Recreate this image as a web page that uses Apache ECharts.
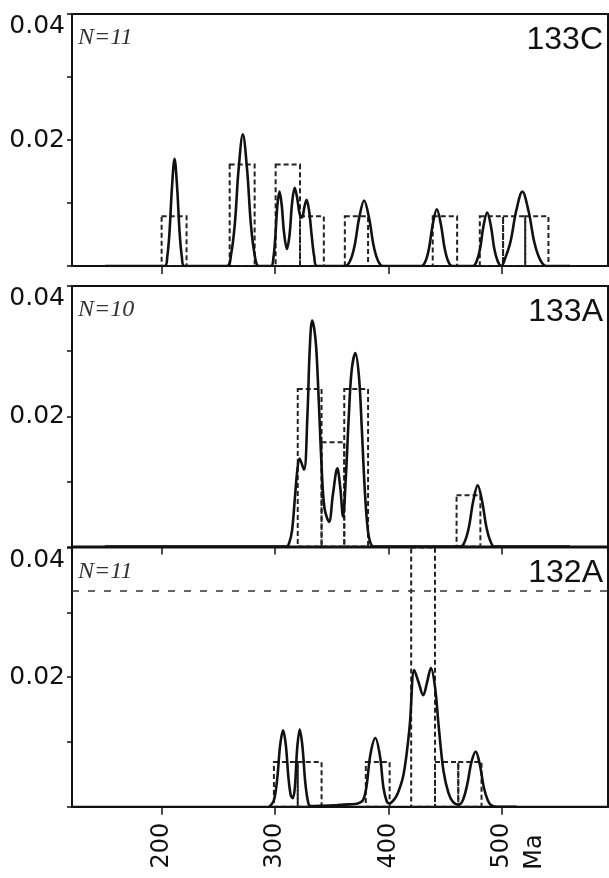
<!DOCTYPE html>
<html>
<head>
<meta charset="utf-8">
<script src="https://cdn.jsdelivr.net/npm/echarts@6/dist/echarts.min.js"></script>
<style>
  html, body { margin: 0; padding: 0; background: #fff; }
  #chart { width: 609px; height: 878px; }
</style>
</head>
<body>
<div id="chart"></div>
<script>
const xTicks = [200, 300, 400, 500];
const panelNames = ['133C', '133A', '132A'];
const panelCounts = ['N=11', 'N=10', 'N=11'];

// histogram bins: [from Ma, to Ma, density]
const bins133C = [
  [200, 222, 0.0079], [260, 282, 0.0161], [300.5, 322, 0.0161], [322, 343, 0.0079],
  [361.5, 382, 0.0079], [439, 460.5, 0.0079], [480.5, 501, 0.0079], [501, 520.5, 0.0079],
  [520.5, 541, 0.0079]
];
const bins133A = [
  [320, 341, 0.0242], [341, 361, 0.0160], [361, 382, 0.0242], [460, 481, 0.0079]
];
const bins132A = [
  [299, 320, 0.0069], [320, 341, 0.0069], [380, 401, 0.0069], [420, 441, 0.04],
  [441, 461.5, 0.0069], [461.5, 482, 0.0069]
];

// density curves: [Ma, density]
const kde133C = [
  [150, 0], [202.7, 0], [205.0, 0.0015], [207.0, 0.0055], [209.1, 0.0124], [211.4, 0.0170],
  [213.7, 0.0124], [215.8, 0.0055], [217.8, 0.0015], [220.1, 0],
  [257.5, 0], [261.3, 0.0019], [264.6, 0.0068], [267.8, 0.0152], [271.6, 0.0209],
  [275.4, 0.0152], [278.6, 0.0068], [281.9, 0.0019], [285.7, 0],
  [296.5, 0], [298.5, 0.0012], [300.2, 0.0045], [302.0, 0.0095], [303.9, 0.0118],
  [305.8, 0.0098], [307.8, 0.0055], [310.4, 0.0027], [312.8, 0.0050], [315.0, 0.0100],
  [317.3, 0.0124], [319.5, 0.0108], [321.8, 0.0082], [323.9, 0.0077], [325.8, 0.0093],
  [327.8, 0.0105], [330.0, 0.0088], [332.3, 0.0048], [334.5, 0.0015], [337.0, 0],
  [362, 0], [366.4, 0.0009], [370.2, 0.0033], [374.1, 0.0076], [378.5, 0.0104],
  [382.9, 0.0076], [386.8, 0.0033], [390.6, 0.0009], [395, 0],
  [429, 0], [432.7, 0.0008], [435.8, 0.0029], [439.0, 0.0066], [442.6, 0.0090],
  [446.2, 0.0066], [449.4, 0.0029], [452.5, 0.0008], [456, 0],
  [474.5, 0], [477.8, 0.0008], [480.7, 0.0027], [483.6, 0.0062], [487.0, 0.0085],
  [490.4, 0.0062], [493.3, 0.0027], [496.2, 0.0008], [499.5, 0],
  [502.6, 0.0011], [507.5, 0.0038], [512.4, 0.0086], [518.0, 0.0118], [523.6, 0.0086],
  [528.5, 0.0038], [533.4, 0.0011], [539, 0], [560, 0]
];
const kde133A = [
  [150, 0], [310, 0], [312.5, 0.0006], [315, 0.0025], [317.5, 0.0075], [319.5, 0.0115],
  [321.5, 0.0135], [325.5, 0.0118], [328.5, 0.0200], [330.5, 0.0300], [332.7, 0.0347],
  [334.5, 0.0335], [336.3, 0.0305], [338.5, 0.0225], [341, 0.0125], [343.5, 0.0060],
  [347.6, 0.0038], [351, 0.0080], [354.9, 0.0120], [357.5, 0.0090], [359.9, 0.0046],
  [362.5, 0.0110], [365, 0.0200], [367.5, 0.0270], [370.8, 0.0297], [374, 0.0260],
  [376.5, 0.0180], [379, 0.0090], [381.5, 0.0030], [384, 0.0006], [387, 0],
  [463.5, 0], [467.5, 0.0009], [471, 0.0031], [474.6, 0.0069], [478.6, 0.0094],
  [482.6, 0.0069], [486.2, 0.0031], [489.7, 0.0009], [493.5, 0], [560, 0]
];
const kde132A = [
  [295, 0], [299, 0.0010], [302, 0.0045], [304.5, 0.0095], [307.1, 0.0118], [309.5, 0.0095],
  [311.8, 0.0045], [313.8, 0.0018], [315.6, 0.0013], [317.5, 0.0030], [319.5, 0.0090],
  [321.8, 0.0119], [324.2, 0.0092], [326.5, 0.0040], [328.8, 0.0010], [331.1, 0.0001],
  [341.4, 0.00015], [355, 0.00025], [365.4, 0.00036], [373, 0.0005], [377.5, 0.0010],
  [380.5, 0.0030], [384, 0.0080], [388.4, 0.0106], [392.5, 0.0078], [395.5, 0.0030],
  [398.5, 0.0008], [400.7, 0.0005], [404, 0.0009], [408, 0.0020], [413.4, 0.0051],
  [418.6, 0.0123], [422.7, 0.0211], [426.5, 0.0192], [430.6, 0.0172], [434, 0.0192],
  [437.4, 0.0214], [441, 0.0185], [444.3, 0.0123], [448.5, 0.0055], [452.9, 0.0021],
  [457, 0.0007], [461.5, 0.0003], [465.5, 0.0010], [469.5, 0.0035], [473, 0.0068],
  [476.9, 0.0085], [480.5, 0.0065], [484, 0.0030], [487.5, 0.0010], [490.6, 0.0002],
  [495, 0], [513, 0]
];
const refLine132A = 0.0333;

const panelBins = [bins133C, bins133A, bins132A];
const panelKde = [kde133C, kde133A, kde132A];
const panelGrids = [
  { top: 14, height: 252 },
  { top: 286, height: 260.6 },
  { top: 547.5, height: 259.2 }
];

const ink = '#111';
const labelFont = 'DejaVu Sans';

function yLabel(v) {
  if (Math.abs(v - 0.02) < 1e-6) return '0.02';
  if (Math.abs(v - 0.04) < 1e-6) return '0.04';
  return '';
}

function renderBin(params, api) {
  const lo = api.coord([api.value(0), 0]);
  const hi = api.coord([api.value(1), api.value(2)]);
  return {
    type: 'rect',
    shape: { x: lo[0], y: hi[1], width: hi[0] - lo[0], height: lo[1] - hi[1] },
    style: { fill: 'none', stroke: '#222', lineWidth: 2, lineDash: [5, 3] }
  };
}

const chart = echarts.init(document.getElementById('chart'), null, { renderer: 'canvas' });

const grids = panelGrids.map(g => ({
  left: 72, right: 1, top: g.top, height: g.height,
  show: true, borderColor: ink, borderWidth: 2, backgroundColor: 'transparent'
}));

const xAxes = panelGrids.map((g, i) => ({
  type: 'value', gridIndex: i, min: 121, max: 593.5,
  splitLine: { show: false },
  axisLine: { show: true, onZero: false, lineStyle: { color: ink, width: 2 } },
  axisTick: { show: true, customValues: xTicks, length: 8, lineStyle: { color: ink, width: 1.5 } },
  axisLabel: {
    show: i === 2, customValues: xTicks, rotate: 90, margin: 16,
    fontFamily: labelFont, fontSize: 24, color: ink
  }
}));

const yAxes = panelGrids.map((g, i) => ({
  type: 'value', gridIndex: i, min: 0, max: 0.04, interval: 0.01,
  splitLine: { show: false },
  axisLine: { show: true, lineStyle: { color: ink, width: 2 } },
  axisTick: { show: true, length: 5, lineStyle: { color: ink, width: 1.5 } },
  axisLabel: {
    formatter: yLabel, margin: 7, verticalAlignMaxLabel: 'top',
    fontFamily: labelFont, fontSize: 25, color: ink
  }
}));

const series = [];
panelBins.forEach((bins, i) => {
  series.push({
    type: 'custom', xAxisIndex: i, yAxisIndex: i, clip: true, silent: true,
    renderItem: renderBin, data: bins, z: 2
  });
});
panelKde.forEach((pts, i) => {
  const s = {
    type: 'line', xAxisIndex: i, yAxisIndex: i, data: pts, symbol: 'none',
    smooth: 0.35, clip: true, silent: true, z: 3,
    lineStyle: { color: ink, width: 2.6 }
  };
  if (i === 2) {
    s.markLine = {
      silent: true, symbol: 'none', precision: 4, label: { show: false },
      lineStyle: { color: '#333', width: 1.5, type: [7, 9] },
      data: [{ yAxis: refLine132A }]
    };
  }
  series.push(s);
});

const graphics = [];
panelGrids.forEach((g, i) => {
  graphics.push({
    type: 'text', left: 78, top: g.top + 12,
    style: { text: panelCounts[i], font: 'italic 24px "Liberation Serif"', fill: '#333' }
  });
  graphics.push({
    type: 'text', x: 603, y: g.top + 26,
    style: { text: panelNames[i], font: '32px "Liberation Sans"', fill: ink, align: 'right', verticalAlign: 'middle' }
  });
});
graphics.push({
  type: 'text', x: 535, y: 852, rotation: Math.PI / 2,
  style: { text: 'Ma', font: '24px "DejaVu Sans"', fill: ink, align: 'center', verticalAlign: 'middle' }
});

chart.setOption({
  animation: false,
  grid: grids,
  xAxis: xAxes,
  yAxis: yAxes,
  series: series,
  graphic: graphics
});
</script>
</body>
</html>
